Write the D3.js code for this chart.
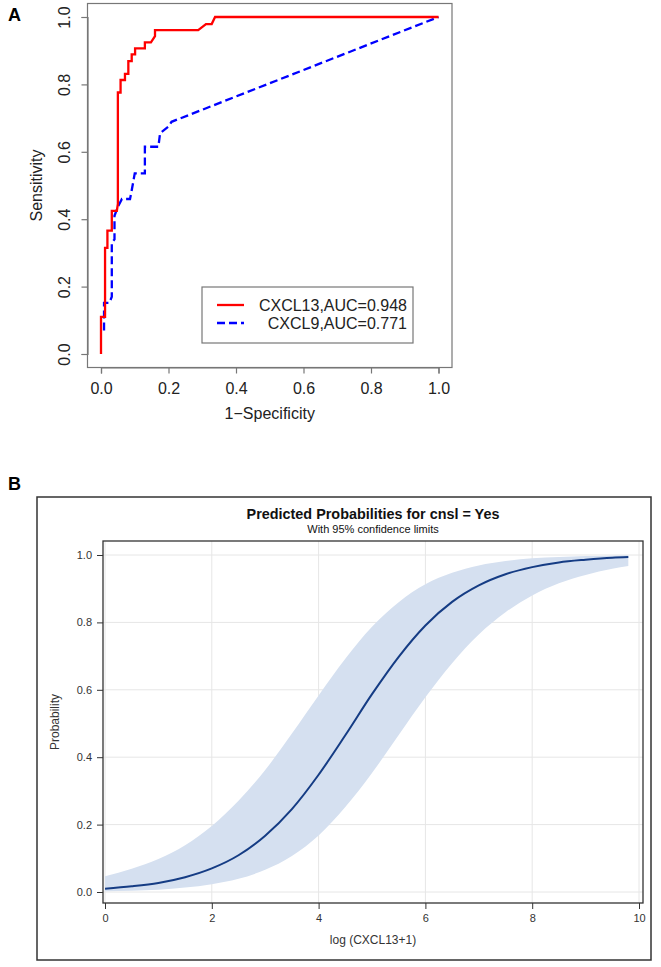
<!DOCTYPE html>
<html><head><meta charset="utf-8">
<script src="https://cdn.jsdelivr.net/npm/d3@7"></script>
<style>body{margin:0;background:#fff}svg{display:block}</style>
</head><body>
<svg id="c" width="661" height="967"></svg>
<script>
// ---------- Panel A data (ROC) ----------
const rocTicks = [0, 0.2, 0.4, 0.6, 0.8, 1.0];
const cxcl13Fpr = [0,0,0.012,0.012,0.019,0.019,0.032,0.032,0.047,0.050,0.050,0.058,0.058,0.071,0.071,0.081,0.081,0.091,0.091,0.101,0.101,0.130,0.130,0.148,0.160,0.160,0.288,0.311,0.328,0.338,1];
const cxcl13Tpr = [0,0.110,0.110,0.315,0.315,0.366,0.366,0.425,0.425,0.445,0.776,0.776,0.813,0.813,0.831,0.831,0.869,0.869,0.889,0.889,0.907,0.907,0.925,0.925,0.943,0.961,0.961,0.979,0.979,1,1];
const cxcl9Fpr = [0.009,0.009,0.025,0.032,0.032,0.040,0.040,0.050,0.062,0.086,0.090,0.100,0.130,0.130,0.170,0.175,0.200,0.209,1];
const cxcl9Tpr = [0.070,0.152,0.152,0.170,0.330,0.340,0.410,0.437,0.460,0.460,0.480,0.536,0.536,0.615,0.615,0.655,0.675,0.689,1];
const legendLabels = ["CXCL13,AUC=0.948", "CXCL9,AUC=0.771"];

// ---------- Panel B data (predicted probabilities) ----------
const probX = [0,0.5,1,1.5,2,2.5,3,3.5,4,4.5,5,5.5,6,6.5,7,7.5,8,8.5,9,9.5,9.8];
const probFit = [0.010,0.017,0.027,0.044,0.070,0.109,0.167,0.246,0.348,0.465,0.587,0.698,0.791,0.861,0.910,0.943,0.964,0.978,0.986,0.992,0.994];
const probLower = [0.002,0.004,0.007,0.013,0.023,0.039,0.066,0.107,0.168,0.252,0.353,0.466,0.578,0.679,0.764,0.830,0.880,0.916,0.941,0.959,0.967];
const probUpper = [0.047,0.069,0.098,0.139,0.196,0.271,0.362,0.470,0.583,0.692,0.787,0.860,0.913,0.947,0.969,0.982,0.990,0.994,0.997,0.998,0.999];
const probYTicks = [0, 0.2, 0.4, 0.6, 0.8, 1.0];
const probXTicks = [0, 2, 4, 6, 8, 10];

const FONT = "'Liberation Sans', Arial, Helvetica, sans-serif";
const svg = d3.select("#c").style("font-family", FONT);

// ================= PANEL A =================
const xA = d3.scaleLinear().domain([0,1]).range([101, 438.5]);
const yA = d3.scaleLinear().domain([0,1]).range([354, 17]);
const boxA = {x0: 87.5, x1: 452, y0: 3.5, y1: 367.5};

svg.append("text").attr("x", 8).attr("y", 21).attr("font-size", 18).attr("font-weight", "bold").text("A");

svg.append("rect").attr("x", boxA.x0).attr("y", boxA.y0)
  .attr("width", boxA.x1 - boxA.x0).attr("height", boxA.y1 - boxA.y0)
  .attr("fill", "none").attr("stroke", "#777").attr("stroke-width", 1.2);

const axA_x = svg.append("g").attr("transform", `translate(0,${boxA.y1})`)
  .call(d3.axisBottom(xA).tickValues(rocTicks).tickFormat(d3.format(".1f")).tickSizeOuter(0).tickSize(6).tickPadding(9));
const axA_y = svg.append("g").attr("transform", `translate(${boxA.x0},0)`)
  .call(d3.axisLeft(yA).tickValues(rocTicks).tickFormat(d3.format(".1f")).tickSizeOuter(0).tickSize(6));
[axA_x, axA_y].forEach(a => {
  a.select(".domain").attr("stroke", "#777").attr("stroke-width", 1.2);
  a.selectAll(".tick line").attr("stroke", "#777").attr("stroke-width", 1.2);
  a.selectAll(".tick text").attr("font-size", 16).attr("fill", "#222").attr("font-family", FONT);
});
axA_y.selectAll(".tick text")
  .attr("transform", "rotate(-90)").attr("x", 0).attr("y", -17.5).attr("dy", 0)
  .attr("text-anchor", "middle");

svg.append("text").attr("transform", `translate(42,${(boxA.y0+boxA.y1)/2}) rotate(-90)`)
  .attr("text-anchor", "middle").attr("font-size", 16).attr("fill", "#222").text("Sensitivity");
svg.append("text").attr("x", (boxA.x0+boxA.x1)/2).attr("y", 419)
  .attr("text-anchor", "middle").attr("font-size", 16).attr("fill", "#222").text("1\u2212Specificity");

const lineA = d3.line().x(d => xA(d[0])).y(d => yA(d[1]));
svg.append("path").datum(d3.zip(cxcl9Fpr, cxcl9Tpr)).attr("d", lineA)
  .attr("fill", "none").attr("stroke", "#0000ff").attr("stroke-width", 2.3).attr("stroke-dasharray", "8,4");
svg.append("path").datum(d3.zip(cxcl13Fpr, cxcl13Tpr)).attr("d", lineA)
  .attr("fill", "none").attr("stroke", "#ff0000").attr("stroke-width", 2.3).attr("stroke-linejoin", "miter");

// legend
const lg = svg.append("g");
lg.append("rect").attr("x", 202).attr("y", 287).attr("width", 211).attr("height", 56)
  .attr("fill", "#fff").attr("stroke", "#777").attr("stroke-width", 1.2);
const legColors = ["#ff0000", "#0000ff"];
const legDash = [null, "8,4"];
legendLabels.forEach((t, i) => {
  const y = 305 + i * 18;
  lg.append("line").attr("x1", 217).attr("x2", 244).attr("y1", y).attr("y2", y)
    .attr("stroke", legColors[i]).attr("stroke-width", 2.3).attr("stroke-dasharray", legDash[i]);
  lg.append("text").attr("x", 407).attr("y", y + 5.5).attr("text-anchor", "end")
    .attr("font-size", 16).attr("fill", "#222").text(t);
});

// ================= PANEL B =================
svg.append("text").attr("x", 8).attr("y", 490).attr("font-size", 18).attr("font-weight", "bold").text("B");
svg.append("rect").attr("x", 37).attr("y", 497).attr("width", 614).attr("height", 463)
  .attr("fill", "none").attr("stroke", "#333").attr("stroke-width", 1.5);

const inner = {x0: 103, x1: 643, y0: 541, y1: 903};
const xB = d3.scaleLinear().domain([0,10]).range([105, 639]);
const yB = d3.scaleLinear().domain([0,1]).range([892, 555]);

svg.append("text").attr("x", (inner.x0+inner.x1)/2).attr("y", 519).attr("text-anchor", "middle")
  .attr("font-size", 14.4).attr("font-weight", "bold").attr("fill", "#111").text("Predicted Probabilities for cnsl = Yes");
svg.append("text").attr("x", (inner.x0+inner.x1)/2).attr("y", 533).attr("text-anchor", "middle")
  .attr("font-size", 11).attr("fill", "#111").text("With 95% confidence limits");

// grid
const gB = svg.append("g");
gB.selectAll(".hg").data(probYTicks).join("line")
  .attr("x1", inner.x0).attr("x2", inner.x1).attr("y1", d => yB(d)).attr("y2", d => yB(d))
  .attr("stroke", "#e6e6e6").attr("stroke-width", 1);
gB.selectAll(".vg").data(probXTicks).join("line")
  .attr("y1", inner.y0).attr("y2", inner.y1).attr("x1", d => xB(d)).attr("x2", d => xB(d))
  .attr("stroke", "#e6e6e6").attr("stroke-width", 1);

// band and fit
const bandData = probX.map((x, i) => [x, probLower[i], probUpper[i]]);
svg.append("path").datum(bandData)
  .attr("d", d3.area().curve(d3.curveMonotoneX).x(d => xB(d[0])).y0(d => yB(d[1])).y1(d => yB(d[2])))
  .attr("fill", "#d5e0f0");
svg.append("path").datum(d3.zip(probX, probFit))
  .attr("d", d3.line().curve(d3.curveMonotoneX).x(d => xB(d[0])).y(d => yB(d[1])))
  .attr("fill", "none").attr("stroke", "#153c84").attr("stroke-width", 2);

// inner frame
svg.append("rect").attr("x", inner.x0).attr("y", inner.y0)
  .attr("width", inner.x1 - inner.x0).attr("height", inner.y1 - inner.y0)
  .attr("fill", "none").attr("stroke", "#333").attr("stroke-width", 1.3);

const axB_y = svg.append("g").attr("transform", `translate(${inner.x0},0)`)
  .call(d3.axisLeft(yB).tickValues(probYTicks).tickFormat(d3.format(".1f")).tickSizeOuter(0).tickSize(6).tickPadding(5));
const axB_x = svg.append("g").attr("transform", `translate(0,${inner.y1})`)
  .call(d3.axisBottom(xB).tickValues(probXTicks).tickFormat(d3.format("d")).tickSizeOuter(0).tickSize(6).tickPadding(5));
[axB_x, axB_y].forEach(a => {
  a.select(".domain").remove();
  a.selectAll(".tick line").attr("stroke", "#333");
  a.selectAll(".tick text").attr("font-size", 11).attr("fill", "#333").attr("font-family", FONT);
});

svg.append("text").attr("transform", `translate(59,${(inner.y0+inner.y1)/2}) rotate(-90)`)
  .attr("text-anchor", "middle").attr("font-size", 12).attr("fill", "#333").text("Probability");
svg.append("text").attr("x", (inner.x0+inner.x1)/2).attr("y", 944)
  .attr("text-anchor", "middle").attr("font-size", 12).attr("fill", "#333").text("log (CXCL13+1)");
</script>
</body></html>
